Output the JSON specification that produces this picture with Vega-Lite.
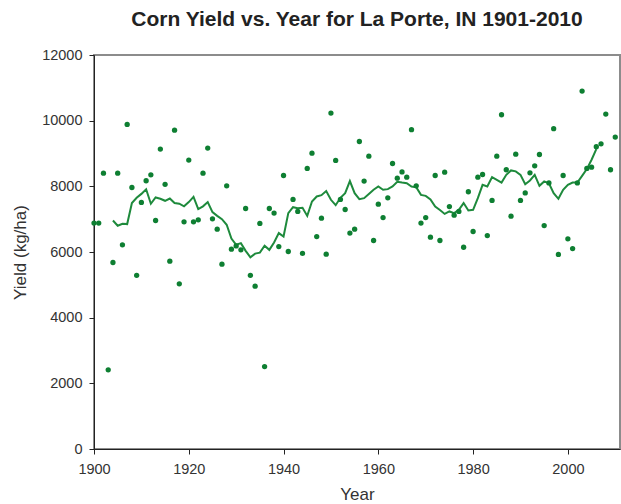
{
  "$schema": "https://vega.github.io/schema/vega-lite/v6.json",
  "autosize": "none",
  "padding": {"left": 94, "top": 55, "right": 1, "bottom": 55},
  "width": 526,
  "height": 394,
  "background": "white",
  "title": {
    "text": "Corn Yield vs. Year for La Porte, IN 1901-2010",
    "font": "Liberation Sans",
    "fontSize": 21,
    "fontWeight": "bold",
    "color": "#222222",
    "anchor": "middle",
    "offset": 17
  },
  "config": {
    "view": {"stroke": "#8c8c8c", "strokeWidth": 2},
    "axis": {
      "labelFont": "Liberation Sans",
      "titleFont": "Liberation Sans",
      "labelFontSize": 14.5,
      "titleFontSize": 17,
      "labelColor": "#333333",
      "titleColor": "#333333",
      "titleFontWeight": "normal",
      "domainColor": "#222222",
      "tickColor": "#222222",
      "tickSize": 5,
      "labelFlush": false,
      "grid": false
    }
  },
  "datasets": {
    "points": [
      {"year":1900,"yield":6880},{"year":1901,"yield":6880},{"year":1902,"yield":8400},{"year":1903,"yield":2410},{"year":1904,"yield":5680},
      {"year":1905,"yield":8400},{"year":1906,"yield":6220},{"year":1907,"yield":9885},{"year":1908,"yield":7965},{"year":1909,"yield":5290},
      {"year":1910,"yield":7510},{"year":1911,"yield":8170},{"year":1912,"yield":8350},{"year":1913,"yield":6960},{"year":1914,"yield":9135},
      {"year":1915,"yield":8060},{"year":1916,"yield":5720},{"year":1917,"yield":9710},{"year":1918,"yield":5030},{"year":1919,"yield":6920},
      {"year":1920,"yield":8800},{"year":1921,"yield":6920},{"year":1922,"yield":6980},{"year":1923,"yield":8400},{"year":1924,"yield":9165},
      {"year":1925,"yield":7010},{"year":1926,"yield":6695},{"year":1927,"yield":5630},{"year":1928,"yield":8015},{"year":1929,"yield":6085},
      {"year":1930,"yield":6185},{"year":1931,"yield":6065},{"year":1932,"yield":7325},{"year":1933,"yield":5290},{"year":1934,"yield":4960},
      {"year":1935,"yield":6870},{"year":1936,"yield":2510},{"year":1937,"yield":7325},{"year":1938,"yield":7185},{"year":1939,"yield":6165},
      {"year":1940,"yield":8330},{"year":1941,"yield":6015},{"year":1942,"yield":7600},{"year":1943,"yield":7235},{"year":1944,"yield":5955},
      {"year":1945,"yield":8545},{"year":1946,"yield":9010},{"year":1947,"yield":6470},{"year":1948,"yield":7030},{"year":1949,"yield":5935},
      {"year":1950,"yield":10230},{"year":1951,"yield":8790},{"year":1952,"yield":7600},{"year":1953,"yield":7295},{"year":1954,"yield":6575},
      {"year":1955,"yield":6695},{"year":1956,"yield":9365},{"year":1957,"yield":8160},{"year":1958,"yield":8920},{"year":1959,"yield":6350},
      {"year":1960,"yield":7455},{"year":1961,"yield":7050},{"year":1962,"yield":7650},{"year":1963,"yield":8695},{"year":1964,"yield":8250},
      {"year":1965,"yield":8440},{"year":1966,"yield":8280},{"year":1967,"yield":9725},{"year":1968,"yield":8015},{"year":1969,"yield":6880},
      {"year":1970,"yield":7050},{"year":1971,"yield":6450},{"year":1972,"yield":8330},{"year":1973,"yield":6350},{"year":1974,"yield":8430},
      {"year":1975,"yield":7385},{"year":1976,"yield":7120},{"year":1977,"yield":7235},{"year":1978,"yield":6145},{"year":1979,"yield":7835},
      {"year":1980,"yield":6625},{"year":1981,"yield":8280},{"year":1982,"yield":8360},{"year":1983,"yield":6500},{"year":1984,"yield":7570},
      {"year":1985,"yield":8920},{"year":1986,"yield":10180},{"year":1987,"yield":8505},{"year":1988,"yield":7090},{"year":1989,"yield":8980},
      {"year":1990,"yield":7570},{"year":1991,"yield":7800},{"year":1992,"yield":8410},{"year":1993,"yield":8625},{"year":1994,"yield":8970},
      {"year":1995,"yield":6805},{"year":1996,"yield":8105},{"year":1997,"yield":9755},{"year":1998,"yield":5925},{"year":1999,"yield":8330},
      {"year":2000,"yield":6400},{"year":2001,"yield":6105},{"year":2002,"yield":8105},{"year":2003,"yield":10900},{"year":2004,"yield":8545},
      {"year":2005,"yield":8585},{"year":2006,"yield":9205},{"year":2007,"yield":9295},{"year":2008,"yield":10200},{"year":2009,"yield":8505},
      {"year":2010,"yield":9500}
    ],
    "avg": [
      {"year":1904,"avg":6960},{"year":1905,"avg":6800},{"year":1906,"avg":6860},{"year":1907,"avg":6850},{"year":1908,"avg":7490},
      {"year":1909,"avg":7650},{"year":1910,"avg":7770},{"year":1911,"avg":7910},{"year":1912,"avg":7470},{"year":1913,"avg":7660},
      {"year":1914,"avg":7620},{"year":1915,"avg":7560},{"year":1916,"avg":7630},{"year":1917,"avg":7490},{"year":1918,"avg":7470},
      {"year":1919,"avg":7390},{"year":1920,"avg":7520},{"year":1921,"avg":7680},{"year":1922,"avg":7305},{"year":1923,"avg":7390},
      {"year":1924,"avg":7520},{"year":1925,"avg":7215},{"year":1926,"avg":7100},{"year":1927,"avg":7000},{"year":1928,"avg":6830},
      {"year":1929,"avg":6410},{"year":1930,"avg":6220},{"year":1931,"avg":6270},{"year":1932,"avg":6035},{"year":1933,"avg":5840},
      {"year":1934,"avg":5950},{"year":1935,"avg":5980},{"year":1936,"avg":6190},{"year":1937,"avg":6065},{"year":1938,"avg":6290},
      {"year":1939,"avg":6575},{"year":1940,"avg":6470},{"year":1941,"avg":7185},{"year":1942,"avg":7365},{"year":1943,"avg":7335},
      {"year":1944,"avg":7345},{"year":1945,"avg":7100},{"year":1946,"avg":7540},{"year":1947,"avg":7690},{"year":1948,"avg":7730},
      {"year":1949,"avg":7855},{"year":1950,"avg":7590},{"year":1951,"avg":7425},{"year":1952,"avg":7650},{"year":1953,"avg":7790},
      {"year":1954,"avg":8160},{"year":1955,"avg":7790},{"year":1956,"avg":7610},{"year":1957,"avg":7640},{"year":1958,"avg":7770},
      {"year":1959,"avg":7895},{"year":1960,"avg":7995},{"year":1961,"avg":7895},{"year":1962,"avg":7915},{"year":1963,"avg":7995},
      {"year":1964,"avg":8140},{"year":1965,"avg":8115},{"year":1966,"avg":8095},{"year":1967,"avg":7995},{"year":1968,"avg":7975},
      {"year":1969,"avg":7740},{"year":1970,"avg":7710},{"year":1971,"avg":7600},{"year":1972,"avg":7385},{"year":1973,"avg":7280},
      {"year":1974,"avg":7160},{"year":1975,"avg":7235},{"year":1976,"avg":7185},{"year":1977,"avg":7285},{"year":1978,"avg":7490},
      {"year":1979,"avg":7265},{"year":1980,"avg":7285},{"year":1981,"avg":7640},{"year":1982,"avg":8045},{"year":1983,"avg":7995},
      {"year":1984,"avg":8280},{"year":1985,"avg":8200},{"year":1986,"avg":8115},{"year":1987,"avg":8350},{"year":1988,"avg":8485},
      {"year":1989,"avg":8455},{"year":1990,"avg":8350},{"year":1991,"avg":8065},{"year":1992,"avg":8180},{"year":1993,"avg":8350},
      {"year":1994,"avg":8015},{"year":1995,"avg":8150},{"year":1996,"avg":8095},{"year":1997,"avg":7790},{"year":1998,"avg":7620},
      {"year":1999,"avg":7895},{"year":2000,"avg":8045},{"year":2001,"avg":8115},{"year":2002,"avg":8115},{"year":2003,"avg":8320},
      {"year":2004,"avg":8525},{"year":2005,"avg":8810},{"year":2006,"avg":9135}
    ]
  },
  "layer": [
    {
      "data": {"name": "avg"},
      "mark": {"type": "line", "color": "#1e8a3c", "strokeWidth": 2},
      "encoding": {
        "x": {"field": "year", "type": "quantitative"},
        "y": {"field": "avg", "type": "quantitative"}
      }
    },
    {
      "data": {"name": "points"},
      "mark": {"type": "circle", "color": "#0e7f32", "opacity": 1, "size": 28},
      "encoding": {
        "x": {
          "field": "year", "type": "quantitative",
          "scale": {"domain": [1900, 2011], "nice": false, "zero": false},
          "axis": {"title": "Year", "values": [1900, 1920, 1940, 1960, 1980, 2000], "format": "d", "labelPadding": 8, "titlePadding": 11}
        },
        "y": {
          "field": "yield", "type": "quantitative",
          "scale": {"domain": [0, 12000], "nice": false},
          "axis": {"title": "Yield (kg/ha)", "values": [0, 2000, 4000, 6000, 8000, 10000, 12000], "format": "d", "labelPadding": 7, "titlePadding": 12}
        }
      }
    }
  ]
}
